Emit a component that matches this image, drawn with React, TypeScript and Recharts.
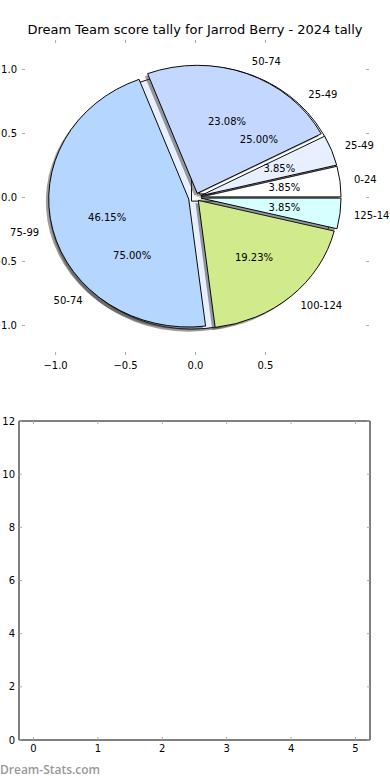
import { PieChart, Pie, Cell, LineChart, XAxis, YAxis } from 'recharts';

// score bands for the 2024 season (games per band)
const tallyBands = ['0-24', '25-49', '50-74', '75-99', '100-124', '125-149'];
const tallyCounts = [1, 1, 6, 12, 5, 1];
const tallyColors = ['#ffffff', '#e8f0ff', '#c4d8ff', '#b4d6ff', '#d0ea8c', '#d8ffff'];
const tallyExplode = [0.04, 0.04, 0.035, 0.05, 0.03, 0.04];

// second pie sitting underneath
const underBands = ['25-49', '50-74'];
const underCounts = [1, 3];
const underColors = ['#ffffff', '#e8f0ff'];
const underExplode = [0.04, 0.04];

const pieXTicks = [-1, -0.5, 0, 0.5];
const pieYTicks = [-1, -0.5, 0, 0.5, 1];
const lowerXTicks = [0, 1, 2, 3, 4, 5];
const lowerYTicks = [0, 2, 4, 6, 8, 10, 12];

const CX = 195.5;
const CY = 197.5;
const R = 140;
const K = 128 / 140; // the axes are not square, so the pie is squashed
const FONT = 'DejaVu Sans';
const RAD = Math.PI / 180;

const tallyData = tallyBands.map((name, i) => ({ name, value: tallyCounts[i] }));
const underData = underBands.map((name, i) => ({ name, value: underCounts[i] }));
const pieAxisRows = pieXTicks.map((x) => ({ x }));
const lowerAxisRows = lowerXTicks.map((x) => ({ x }));

function midAngles(counts: number[]) {
  const total = counts.reduce((a, b) => a + b, 0);
  return counts.map((v, i) => {
    const before = counts.slice(0, i).reduce((a, b) => a + b, 0);
    return ((before + v / 2) / total) * 360;
  });
}

const tickText = { fontSize: 10, fill: '#000', fontFamily: FONT };
const fmtPie = (v: number) => (v < 0 ? '\u2212' : '') + Math.abs(v).toFixed(1);
const fmtPlain = (v: number) => String(v);
const NoTick = () => null;
const NOMARGIN = { top: 0, right: 0, bottom: 0, left: 0 };

function xTick(fmt: (v: number) => string) {
  return (p: any) => (
    <text x={p.x} y={p.y} dy="0.71em" textAnchor="middle" fontSize={10} fontFamily={FONT} fill="#000">
      {fmt(p.payload.value)}
    </text>
  );
}

function makeLabel(names: string[], explode: number[]) {
  return (p: any) => {
    const a = p.midAngle * RAD;
    const e = explode[p.index] * R;
    const ox = p.cx + e * Math.cos(a);
    const oy = p.cy - e * Math.sin(a);
    const lx = ox + 1.1 * R * Math.cos(a);
    const ly = oy - 1.1 * R * Math.sin(a);
    const px = ox + 0.6 * R * Math.cos(a);
    const py = oy - 0.6 * R * Math.sin(a);
    const s = `scale(1,${1 / K})`;
    return (
      <g>
        <text transform={`translate(${lx},${ly}) ${s}`} textAnchor={Math.cos(a) > 0 ? 'start' : 'end'}
          dominantBaseline="central" fontSize={10} fontFamily={FONT} fill="#000">
          {names[p.index]}
        </text>
        <text transform={`translate(${px},${py}) ${s}`} textAnchor="middle"
          dominantBaseline="central" fontSize={10} fontFamily={FONT} fill="#000">
          {(p.percent * 100).toFixed(2)}%
        </text>
      </g>
    );
  };
}

// one Pie per wedge (shadow first, then the wedge), each shifted out along its mid angle
function explodedWedges(prefix: string, data: { name: string; value: number }[], counts: number[], colors: string[], explode: number[]) {
  const mids = midAngles(counts);
  const sx = -0.02 * R;
  const sy = 0.02 * R;
  return data.map((d, i) => {
    const e = explode[i] * R;
    const ox = CX + e * Math.cos(mids[i] * RAD);
    const oy = CY - e * Math.sin(mids[i] * RAD);
    return [
      <Pie key={prefix + 's' + i} data={data} dataKey="value" nameKey="name" cx={ox + sx} cy={oy + sy}
        outerRadius={R} startAngle={0} endAngle={360} isAnimationActive={false}>
        {data.map((c, j) => (
          <Cell key={c.name + j} fill={j === i ? '#3a3a3a' : 'none'} fillOpacity={0.5} stroke="none" />
        ))}
      </Pie>,
      <Pie key={prefix + 'w' + i} data={data} dataKey="value" nameKey="name" cx={ox} cy={oy}
        outerRadius={R} startAngle={0} endAngle={360} isAnimationActive={false}>
        {data.map((c, j) => (
          <Cell key={c.name + j} fill={j === i ? colors[j] : 'none'}
            stroke={j === i ? '#000' : 'none'} strokeWidth={1} />
        ))}
      </Pie>,
    ];
  });
}

function PieAxes() {
  return (
    <LineChart width={390} height={390} data={pieAxisRows} margin={{ top: 39, right: 20, bottom: 15, left: 21 }}>
      <XAxis xAxisId="b" dataKey="x" type="number" domain={[-1.24, 1.24]} allowDataOverflow ticks={pieXTicks}
        interval={0} height={20} axisLine={false} tickSize={-3} tickMargin={9.5}
        tickLine={{ stroke: '#aaa' }} tick={xTick(fmtPie)} />
      <XAxis xAxisId="t" dataKey="x" orientation="top" type="number" domain={[-1.24, 1.24]} allowDataOverflow
        ticks={pieXTicks} interval={0} height={1} axisLine={false} tickSize={-3}
        tickLine={{ stroke: '#aaa' }} tick={NoTick} />
      <YAxis yAxisId="l" type="number" domain={[-1.23, 1.23]} allowDataOverflow ticks={pieYTicks}
        interval={0} width={1} axisLine={false} tickSize={-3} tickMargin={8}
        tickLine={{ stroke: '#aaa' }} tick={tickText} tickFormatter={fmtPie} />
      <YAxis yAxisId="r" orientation="right" type="number" domain={[-1.23, 1.23]} allowDataOverflow
        ticks={pieYTicks} interval={0} width={1} axisLine={false} tickSize={-3}
        tickLine={{ stroke: '#aaa' }} tick={NoTick} />
    </LineChart>
  );
}

function TallyPie() {
  return (
    <PieChart width={390} height={390} margin={NOMARGIN}>
      {explodedWedges('u', underData, underCounts, underColors, underExplode)}
      {explodedWedges('t', tallyData, tallyCounts, tallyColors, tallyExplode)}
      <Pie data={underData} dataKey="value" nameKey="name" cx={CX} cy={CY}
        outerRadius={R} startAngle={0} endAngle={360} fill="none" stroke="none"
        isAnimationActive={false} labelLine={false}
        label={makeLabel(underBands, underExplode)} />
      <Pie data={tallyData} dataKey="value" nameKey="name" cx={CX} cy={CY}
        outerRadius={R} startAngle={0} endAngle={360} fill="none" stroke="none"
        isAnimationActive={false} labelLine={false}
        label={makeLabel(tallyBands, tallyExplode)} />
    </PieChart>
  );
}

function LowerAxes() {
  return (
    <LineChart width={390} height={390} data={lowerAxisRows} margin={{ top: 30, right: 19, bottom: 20, left: 18 }}>
      <XAxis xAxisId="b" dataKey="x" type="number" domain={[-0.225, 5.225]} allowDataOverflow ticks={lowerXTicks}
        interval={0} height={20} axisLine={{ stroke: '#000' }} tickSize={-3} tickMargin={7.5}
        tickLine={{ stroke: '#aaa' }} tick={xTick(fmtPlain)} />
      <XAxis xAxisId="t" dataKey="x" orientation="top" type="number" domain={[-0.225, 5.225]} allowDataOverflow
        ticks={lowerXTicks} interval={0} height={1} axisLine={{ stroke: '#000' }} tickSize={-3}
        tickLine={{ stroke: '#aaa' }} tick={NoTick} />
      <YAxis yAxisId="l" type="number" domain={[0, 12]} allowDataOverflow ticks={lowerYTicks}
        interval={0} width={1} axisLine={{ stroke: '#000' }} tickSize={-3} tickMargin={7}
        tickLine={{ stroke: '#aaa' }} tick={tickText} />
      <YAxis yAxisId="r" orientation="right" type="number" domain={[0, 12]} allowDataOverflow
        ticks={lowerYTicks} interval={0} width={1} axisLine={{ stroke: '#000' }} tickSize={-3}
        tickLine={{ stroke: '#aaa' }} tick={NoTick} />
    </LineChart>
  );
}

export default function App() {
  return (
    <div style={{ position: 'absolute', left: 0, top: 0, width: 390, height: 780, background: '#fff', overflow: 'hidden' }}>
      <div style={{ position: 'absolute', left: 0, top: 21, width: 390, textAlign: 'center', fontFamily: FONT, fontSize: 13, lineHeight: '17px', color: '#000' }}>
        Dream Team score tally for Jarrod Berry - 2024 tally
      </div>
      <div style={{ position: 'absolute', left: 0, top: 0 }}>
        <PieAxes />
      </div>
      <div style={{ position: 'absolute', left: 0, top: 0, transform: `scaleY(${K})`, transformOrigin: `${CX}px ${CY}px` }}>
        <TallyPie />
      </div>
      <div style={{ position: 'absolute', left: 0, top: 390 }}>
        <LowerAxes />
      </div>
      <div style={{ position: 'absolute', left: 0, top: 762, fontFamily: 'Open Sans', fontWeight: 600, fontSize: 12, lineHeight: '16px', color: '#999' }}>
        Dream-Stats.com
      </div>
    </div>
  );
}
